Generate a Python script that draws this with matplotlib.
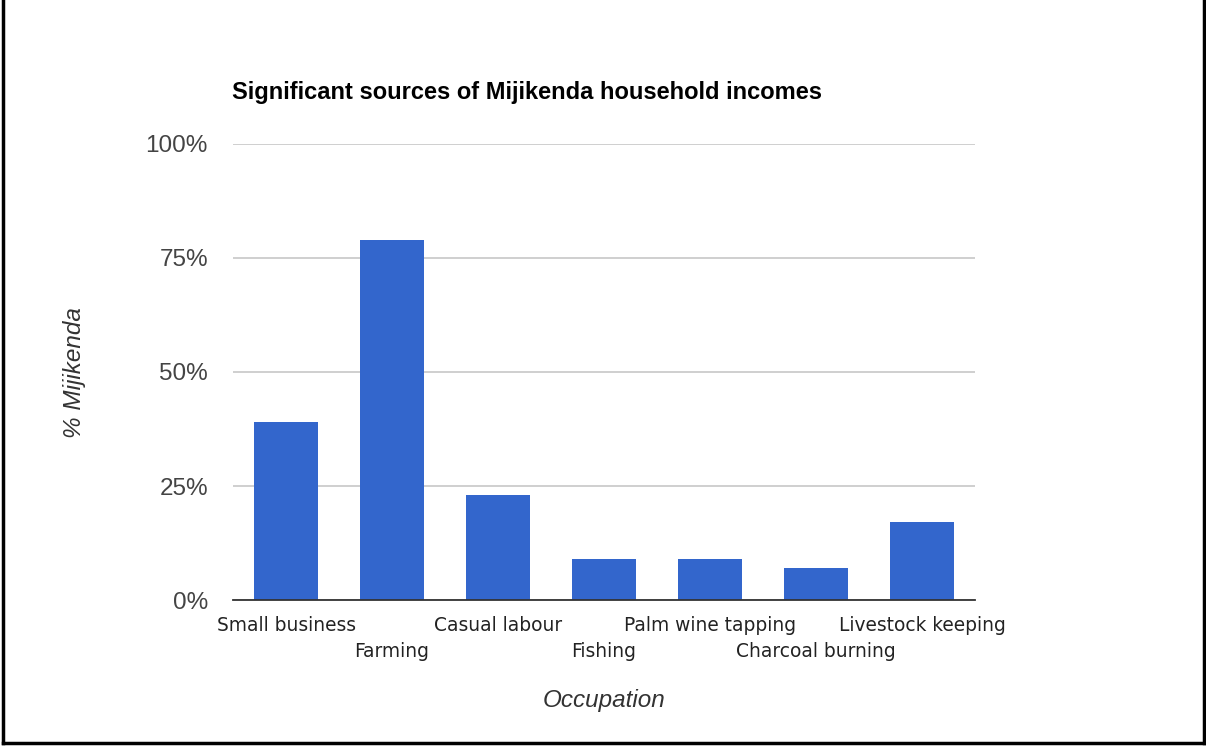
import matplotlib.pyplot as plt
from matplotlib.lines import Line2D

occupations = ['Small business', 'Farming', 'Casual labour', 'Fishing',
               'Palm wine tapping', 'Charcoal burning', 'Livestock keeping']
percent = [39, 79, 23, 9, 9, 7, 17]
y_ticks = [0, 25, 50, 75, 100]
y_tick_labels = ['0%', '25%', '50%', '75%', '100%']

fig = plt.figure(figsize=(12.06, 7.46), dpi=100)
ax = fig.add_axes([0.1932, 0.1957, 0.6153, 0.6113])

x = list(range(len(occupations)))
ax.bar(x, percent, width=0.6, color='#3366cc', zorder=3)

ax.set_xlim(-0.5, len(occupations) - 0.5)
ax.set_ylim(0, 100)
ax.set_yticks(y_ticks)
ax.set_yticklabels(y_tick_labels, fontsize=17.5, color='#444444',
                   family='Liberation Sans')
ax.tick_params(axis='y', length=0, pad=18)
ax.grid(axis='y', color='#cccccc', linewidth=1.3, zorder=0)

# x labels staggered over two rows
ax.set_xticks(x)
ax.set_xticklabels([])
ax.tick_params(axis='x', length=0)
for i, name in enumerate(occupations):
    y_off = -0.056 if i % 2 == 0 else -0.112
    ax.text(i, y_off, name, transform=ax.get_xaxis_transform(),
            ha='center', va='center', fontsize=13.4, color='#222222',
            family='DejaVu Sans')

for side in ['top', 'right', 'left']:
    ax.spines[side].set_visible(False)
ax.spines['bottom'].set_color('#333333')
ax.spines['bottom'].set_linewidth(1.3)
ax.spines['bottom'].set_zorder(4)

fig.text(0.1924, 0.876, 'Significant sources of Mijikenda household incomes',
         fontsize=17, fontweight='bold', family='Liberation Sans',
         ha='left', va='center', color='black')
fig.text(0.5008, 0.061, 'Occupation', fontsize=17.5, style='italic',
         family='Liberation Sans', color='#333333', ha='center', va='center')
fig.text(0.062, 0.501, '% Mijikenda', fontsize=17.5, style='italic',
         family='Liberation Sans', color='#333333', ha='center', va='center',
         rotation=90)

# frame on left, right and bottom
frame = dict(color='black', linewidth=2.5, transform=fig.transFigure)
fig.add_artist(Line2D([0.0025, 0.0025], [0.0035, 1], **frame))
fig.add_artist(Line2D([0.9983, 0.9983], [0.0035, 1], **frame))
fig.add_artist(Line2D([0.0025, 0.9983], [0.0035, 0.0035], **frame))

fig.savefig('out.png', dpi=100)
